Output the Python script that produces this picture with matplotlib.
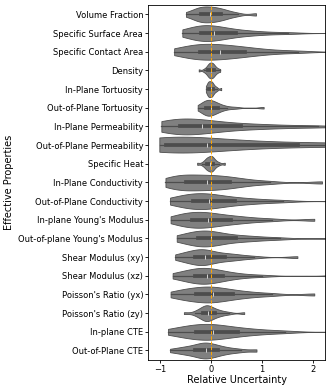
import matplotlib
matplotlib.use("Agg")
import matplotlib.pyplot as plt
import pandas as pd
import seaborn as sns

properties = [
    "Volume Fraction", "Specific Surface Area", "Specific Contact Area",
    "Density", "In-Plane Tortuosity", "Out-of-Plane Tortuosity",
    "In-Plane Permeability", "Out-of-Plane Permeability", "Specific Heat",
    "In-Plane Conductivity", "Out-of-Plane Conductivity",
    "In-plane Young's Modulus", "Out-of-plane Young's Modulus",
    "Shear Modulus (xy)", "Shear Modulus (xz)", "Poisson's Ratio (yx)",
    "Poisson's Ratio (zy)", "In-plane CTE", "Out-of-Plane CTE",
]

# relative uncertainty at percentiles 0, 5, 10, ..., 100
volume_fraction = [-0.49, -0.38, -0.32, -0.27, -0.23, -0.2, -0.16, -0.12, -0.08, -0.05, -0.01,
                   0.03, 0.07, 0.11, 0.15, 0.2, 0.25, 0.31, 0.39, 0.52, 0.88]
specific_surface_area = [-0.56, -0.42, -0.35, -0.29, -0.24, -0.2, -0.15, -0.1, -0.05, 0.0, 0.05,
                         0.11, 0.18, 0.26, 0.36, 0.48, 0.62, 0.8, 1.05, 1.5, 3.0]
specific_contact_area = [-0.72, -0.55, -0.45, -0.36, -0.29, -0.22, -0.15, -0.07, 0.01, 0.09, 0.17,
                         0.25, 0.34, 0.44, 0.55, 0.66, 0.8, 0.98, 1.25, 1.7, 3.2]
density = [-0.24, -0.14, -0.1, -0.08, -0.06, -0.05, -0.04, -0.03, -0.02, -0.01, 0.0,
           0.01, 0.02, 0.03, 0.04, 0.05, 0.06, 0.08, 0.1, 0.13, 0.18]
in_plane_tortuosity = [-0.1, -0.08, -0.07, -0.06, -0.05, -0.045, -0.04, -0.03, -0.02, -0.01, 0.0,
                       0.005, 0.01, 0.02, 0.03, 0.04, 0.05, 0.07, 0.09, 0.12, 0.2]
out_plane_tortuosity = [-0.26, -0.2, -0.16, -0.13, -0.11, -0.1, -0.08, -0.06, -0.04, -0.02, 0.0,
                        0.02, 0.04, 0.07, 0.1, 0.13, 0.17, 0.23, 0.32, 0.48, 1.03]
in_plane_permeability = [-0.97, -0.92, -0.85, -0.76, -0.68, -0.6, -0.52, -0.44, -0.35, -0.27, -0.18,
                         -0.08, 0.04, 0.18, 0.35, 0.58, 0.8, 1.1, 1.5, 2.1, 3.5]
out_plane_permeability = [-1.0, -0.98, -0.96, -0.93, -0.91, -0.88, -0.75, -0.6, -0.42, -0.25, -0.08,
                          0.15, 0.42, 0.75, 1.2, 1.7, 2.3, 3.0, 4.0, 5.5, 8.0]
specific_heat = [-0.27, -0.17, -0.13, -0.1, -0.09, -0.08, -0.065, -0.05, -0.035, -0.02, -0.01,
                 0.0, 0.01, 0.02, 0.03, 0.04, 0.06, 0.08, 0.11, 0.16, 0.27]
in_plane_conductivity = [-0.89, -0.8, -0.72, -0.63, -0.56, -0.49, -0.41, -0.33, -0.24, -0.16, -0.07,
                         0.01, 0.09, 0.18, 0.27, 0.37, 0.48, 0.62, 0.82, 1.15, 2.17]
out_plane_conductivity = [-0.8, -0.66, -0.57, -0.49, -0.42, -0.36, -0.29, -0.22, -0.15, -0.1, -0.04,
                          0.03, 0.11, 0.2, 0.32, 0.46, 0.6, 0.78, 1.02, 1.4, 2.8]
in_plane_youngs = [-0.79, -0.66, -0.58, -0.5, -0.44, -0.38, -0.31, -0.24, -0.18, -0.12, -0.06,
                   0.01, 0.09, 0.18, 0.28, 0.4, 0.52, 0.67, 0.88, 1.2, 2.02]
out_plane_youngs = [-0.67, -0.53, -0.45, -0.37, -0.31, -0.25, -0.2, -0.14, -0.09, -0.04, 0.0,
                    0.06, 0.13, 0.22, 0.34, 0.49, 0.62, 0.78, 1.0, 1.35, 2.6]
shear_xy = [-0.7, -0.58, -0.5, -0.43, -0.37, -0.31, -0.26, -0.21, -0.17, -0.14, -0.12,
            -0.06, 0.0, 0.07, 0.16, 0.27, 0.36, 0.46, 0.6, 0.85, 1.69]
shear_xz = [-0.75, -0.6, -0.52, -0.44, -0.37, -0.31, -0.26, -0.21, -0.16, -0.12, -0.08,
            -0.03, 0.02, 0.09, 0.16, 0.24, 0.34, 0.47, 0.66, 1.0, 2.5]
poisson_yx = [-0.79, -0.63, -0.54, -0.45, -0.37, -0.29, -0.22, -0.15, -0.09, -0.03, 0.03,
              0.09, 0.16, 0.24, 0.33, 0.43, 0.55, 0.7, 0.9, 1.2, 2.02]
poisson_zy = [-0.53, -0.32, -0.26, -0.21, -0.18, -0.16, -0.13, -0.11, -0.09, -0.075, -0.06,
              -0.04, -0.02, 0.01, 0.04, 0.08, 0.12, 0.17, 0.24, 0.35, 0.65]
in_plane_cte = [-0.84, -0.66, -0.56, -0.45, -0.37, -0.29, -0.22, -0.15, -0.08, -0.02, 0.04,
                0.11, 0.19, 0.29, 0.4, 0.52, 0.66, 0.84, 1.08, 1.45, 3.0]
out_plane_cte = [-0.8, -0.63, -0.54, -0.46, -0.38, -0.31, -0.26, -0.21, -0.17, -0.13, -0.1,
                 -0.06, -0.02, 0.03, 0.08, 0.14, 0.21, 0.3, 0.42, 0.58, 0.89]

samples = [
    volume_fraction, specific_surface_area, specific_contact_area, density,
    in_plane_tortuosity, out_plane_tortuosity, in_plane_permeability,
    out_plane_permeability, specific_heat, in_plane_conductivity,
    out_plane_conductivity, in_plane_youngs, out_plane_youngs, shear_xy,
    shear_xz, poisson_yx, poisson_zy, in_plane_cte, out_plane_cte,
]

rows = []
for name, vals in zip(properties, samples):
    for v in vals:
        rows.append({"Effective Properties": name, "Relative Uncertainty": v})
df = pd.DataFrame(rows)

fig = plt.figure(figsize=(3.32, 3.89), dpi=100)
ax = fig.add_axes([0.446, 0.075, 0.533, 0.912])

sns.violinplot(data=df, x="Relative Uncertainty", y="Effective Properties",
               order=properties, color="gray", cut=0, density_norm="width",
               bw_adjust=0.6, inner="box", linewidth=0.6, width=0.85, ax=ax)

ax.axvline(0, color="orange", linestyle="--", linewidth=0.7)
ax.set_xlim(-1.23, 2.23)
ax.set_xticks([-1, 0, 1, 2])
ax.tick_params(labelsize=6, length=2, width=0.6, pad=1.5)
ax.set_xlabel("Relative Uncertainty", fontsize=7, labelpad=1)
ax.set_ylabel("Effective Properties", fontsize=7, labelpad=3)
for s in ax.spines.values():
    s.set_linewidth(0.6)

fig.savefig("out.png", dpi=100)
